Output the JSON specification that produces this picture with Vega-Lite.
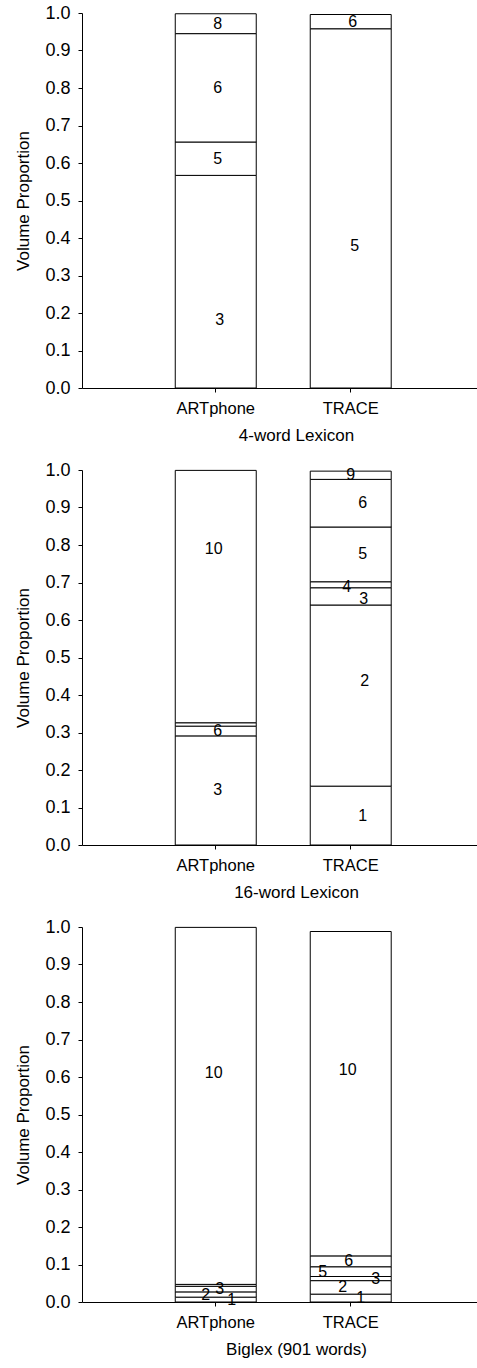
{
  "$schema": "https://vega.github.io/schema/vega-lite/v6.json",
  "background": "white",
  "padding": {"left": 14, "top": 4, "right": 0, "bottom": 0},
  "spacing": 17,
  "config": {
    "font": "Liberation Sans",
    "view": {"stroke": null},
    "text": {"fontSize": 16, "color": "black", "baseline": "middle", "align": "center", "font": "Liberation Sans"},
    "axis": {
      "domainColor": "black", "tickColor": "black", "labelColor": "black", "titleColor": "black",
      "labelFont": "Liberation Sans", "titleFont": "Liberation Sans",
      "labelFontSize": 16.5, "titleFontSize": 17, "titleFontWeight": "normal",
      "grid": false, "tickSize": 4, "domainWidth": 1, "tickWidth": 1, "labelOverlap": false, "labelFlush": false
    },
    "axisY": {"labelFontSize": 18, "labelPadding": 8, "titlePadding": 12, "values": [0, 0.1, 0.2, 0.3, 0.4, 0.5, 0.6, 0.7, 0.8, 0.9, 1.0], "format": ".1f", "tickCount": 10, "labelOverlap": false}
  },
  "data": {
    "values": [
      {"panel": "4-word Lexicon", "model": "ARTphone", "seg": 1, "label": "3", "value": 0.567},
      {"panel": "4-word Lexicon", "model": "ARTphone", "seg": 2, "label": "5", "value": 0.089},
      {"panel": "4-word Lexicon", "model": "ARTphone", "seg": 3, "label": "6", "value": 0.289},
      {"panel": "4-word Lexicon", "model": "ARTphone", "seg": 4, "label": "8", "value": 0.053},
      {"panel": "4-word Lexicon", "model": "TRACE", "seg": 1, "label": "5", "value": 0.958},
      {"panel": "4-word Lexicon", "model": "TRACE", "seg": 2, "label": "6", "value": 0.038},
      {"panel": "16-word Lexicon", "model": "ARTphone", "seg": 1, "label": "3", "value": 0.291},
      {"panel": "16-word Lexicon", "model": "ARTphone", "seg": 2, "label": "6", "value": 0.026},
      {"panel": "16-word Lexicon", "model": "ARTphone", "seg": 3, "label": "", "value": 0.009},
      {"panel": "16-word Lexicon", "model": "ARTphone", "seg": 4, "label": "10", "value": 0.673},
      {"panel": "16-word Lexicon", "model": "TRACE", "seg": 1, "label": "1", "value": 0.157},
      {"panel": "16-word Lexicon", "model": "TRACE", "seg": 2, "label": "2", "value": 0.483},
      {"panel": "16-word Lexicon", "model": "TRACE", "seg": 3, "label": "3", "value": 0.046},
      {"panel": "16-word Lexicon", "model": "TRACE", "seg": 4, "label": "4", "value": 0.016},
      {"panel": "16-word Lexicon", "model": "TRACE", "seg": 5, "label": "5", "value": 0.146},
      {"panel": "16-word Lexicon", "model": "TRACE", "seg": 6, "label": "6", "value": 0.127},
      {"panel": "16-word Lexicon", "model": "TRACE", "seg": 7, "label": "9", "value": 0.022},
      {"panel": "Biglex (901 words)", "model": "ARTphone", "seg": 1, "label": "1", "value": 0.013},
      {"panel": "Biglex (901 words)", "model": "ARTphone", "seg": 2, "label": "2", "value": 0.014},
      {"panel": "Biglex (901 words)", "model": "ARTphone", "seg": 3, "label": "3", "value": 0.015},
      {"panel": "Biglex (901 words)", "model": "ARTphone", "seg": 4, "label": "", "value": 0.005},
      {"panel": "Biglex (901 words)", "model": "ARTphone", "seg": 5, "label": "10", "value": 0.952},
      {"panel": "Biglex (901 words)", "model": "TRACE", "seg": 1, "label": "1", "value": 0.021},
      {"panel": "Biglex (901 words)", "model": "TRACE", "seg": 2, "label": "2", "value": 0.036},
      {"panel": "Biglex (901 words)", "model": "TRACE", "seg": 3, "label": "3", "value": 0.011},
      {"panel": "Biglex (901 words)", "model": "TRACE", "seg": 4, "label": "5", "value": 0.026},
      {"panel": "Biglex (901 words)", "model": "TRACE", "seg": 5, "label": "6", "value": 0.029},
      {"panel": "Biglex (901 words)", "model": "TRACE", "seg": 6, "label": "10", "value": 0.865}
    ]
  },
  "vconcat": [
    {
      "width": 396, "height": 375,
      "transform": [
        {"filter": "datum.panel === '4-word Lexicon'"},
        {"stack": "value", "groupby": ["model"], "sort": [{"field": "seg", "order": "ascending"}], "as": ["y0", "y1"]},
        {"calculate": "(datum.y0 + datum.y1) / 2", "as": "mid"}
      ],
      "encoding": {
        "x": {"field": "model", "type": "nominal", "sort": ["ARTphone", "TRACE"],
          "scale": {"paddingInner": 0.4, "paddingOuter": 0.667, "align": 0.518},
          "axis": {"title": "4-word Lexicon", "labelAngle": 0, "labelPadding": 8, "titlePadding": 11, "titleX": 214}},
        "y": {"field": "mid", "type": "quantitative", "scale": {"domain": [0, 1], "nice": false}, "axis": {"title": "Volume Proportion"}},
        "text": {"field": "label"}
      },
      "layer": [
        {"mark": {"type": "bar", "fill": "white", "stroke": "black", "strokeWidth": 1},
          "encoding": {
            "y": {"field": "y0", "type": "quantitative", "scale": {"domain": [0, 1], "nice": false}, "axis": {"title": "Volume Proportion"}},
            "y2": {"field": "y1"}, "text": null}},
        {"transform": [{"filter": "!((datum.model === 'ARTphone' && datum.label === '3') || (datum.model === 'TRACE' && datum.label === '5'))"}],
          "mark": {"type": "text", "dx": 2}},
        {"transform": [{"filter": "(datum.model === 'ARTphone' && datum.label === '3') || (datum.model === 'TRACE' && datum.label === '5')"}],
          "mark": {"type": "text", "dx": 4, "dy": 38}}
      ]
    },
    {
      "width": 396, "height": 375,
      "transform": [
        {"filter": "datum.panel === '16-word Lexicon'"},
        {"stack": "value", "groupby": ["model"], "sort": [{"field": "seg", "order": "ascending"}], "as": ["y0", "y1"]},
        {"calculate": "(datum.y0 + datum.y1) / 2", "as": "mid"}
      ],
      "encoding": {
        "x": {"field": "model", "type": "nominal", "sort": ["ARTphone", "TRACE"],
          "scale": {"paddingInner": 0.4, "paddingOuter": 0.667, "align": 0.518},
          "axis": {"title": "16-word Lexicon", "labelAngle": 0, "labelPadding": 8, "titlePadding": 11, "titleX": 214}},
        "y": {"field": "mid", "type": "quantitative", "scale": {"domain": [0, 1], "nice": false}, "axis": {"title": "Volume Proportion"}},
        "text": {"field": "label"}
      },
      "layer": [
        {"mark": {"type": "bar", "fill": "white", "stroke": "black", "strokeWidth": 1},
          "encoding": {
            "y": {"field": "y0", "type": "quantitative", "scale": {"domain": [0, 1], "nice": false}, "axis": {"title": "Volume Proportion"}},
            "y2": {"field": "y1"}, "text": null}},
        {"transform": [{"filter": "datum.model === 'ARTphone' && datum.label !== '10'"}],
          "mark": {"type": "text", "dx": 2}},
        {"transform": [{"filter": "datum.model === 'ARTphone' && datum.label === '10'"}],
          "mark": {"type": "text", "dx": -2, "dy": -48}},
        {"transform": [{"filter": "datum.model === 'TRACE' && datum.label === '9'"}],
          "mark": {"type": "text", "dx": 0}},
        {"transform": [{"filter": "datum.model === 'TRACE' && (datum.label === '6' || datum.label === '5' || datum.label === '1')"}],
          "mark": {"type": "text", "dx": 12}},
        {"transform": [{"filter": "datum.model === 'TRACE' && datum.label === '2'"}],
          "mark": {"type": "text", "dx": 14, "dy": -15}},
        {"transform": [{"filter": "datum.model === 'TRACE' && datum.label === '4'"}],
          "mark": {"type": "text", "dx": -4, "dy": 2}},
        {"transform": [{"filter": "datum.model === 'TRACE' && datum.label === '3'"}],
          "mark": {"type": "text", "dx": 13, "dy": 3}}
      ]
    },
    {
      "width": 396, "height": 375,
      "transform": [
        {"filter": "datum.panel === 'Biglex (901 words)'"},
        {"stack": "value", "groupby": ["model"], "sort": [{"field": "seg", "order": "ascending"}], "as": ["y0", "y1"]},
        {"calculate": "(datum.y0 + datum.y1) / 2", "as": "mid"}
      ],
      "encoding": {
        "x": {"field": "model", "type": "nominal", "sort": ["ARTphone", "TRACE"],
          "scale": {"paddingInner": 0.4, "paddingOuter": 0.667, "align": 0.518},
          "axis": {"title": "Biglex (901 words)", "labelAngle": 0, "labelPadding": 8, "titlePadding": 11, "titleX": 214}},
        "y": {"field": "mid", "type": "quantitative", "scale": {"domain": [0, 1], "nice": false}, "axis": {"title": "Volume Proportion"}},
        "text": {"field": "label"}
      },
      "layer": [
        {"mark": {"type": "bar", "fill": "white", "stroke": "black", "strokeWidth": 1},
          "encoding": {
            "y": {"field": "y0", "type": "quantitative", "scale": {"domain": [0, 1], "nice": false}, "axis": {"title": "Volume Proportion"}},
            "y2": {"field": "y1"}, "text": null}},
        {"transform": [{"filter": "datum.model === 'ARTphone' && datum.label === '10'"}],
          "mark": {"type": "text", "dx": -2, "dy": -33}},
        {"transform": [{"filter": "datum.model === 'TRACE' && datum.label === '10'"}],
          "mark": {"type": "text", "dx": -3, "dy": -24}},
        {"transform": [{"filter": "datum.model === 'ARTphone' && datum.label === '2'"}],
          "mark": {"type": "text", "dx": -10}},
        {"transform": [{"filter": "datum.model === 'ARTphone' && datum.label === '3'"}],
          "mark": {"type": "text", "dx": 4}},
        {"transform": [{"filter": "datum.model === 'ARTphone' && datum.label === '1'"}],
          "mark": {"type": "text", "dx": 16}},
        {"transform": [{"filter": "datum.model === 'TRACE' && datum.label === '5'"}],
          "mark": {"type": "text", "dx": -28}},
        {"transform": [{"filter": "datum.model === 'TRACE' && datum.label === '2'"}],
          "mark": {"type": "text", "dx": -8}},
        {"transform": [{"filter": "datum.model === 'TRACE' && datum.label === '6'"}],
          "mark": {"type": "text", "dx": -2}},
        {"transform": [{"filter": "datum.model === 'TRACE' && datum.label === '1'"}],
          "mark": {"type": "text", "dx": 10}},
        {"transform": [{"filter": "datum.model === 'TRACE' && datum.label === '3'"}],
          "mark": {"type": "text", "dx": 25}}
      ]
    }
  ]
}
